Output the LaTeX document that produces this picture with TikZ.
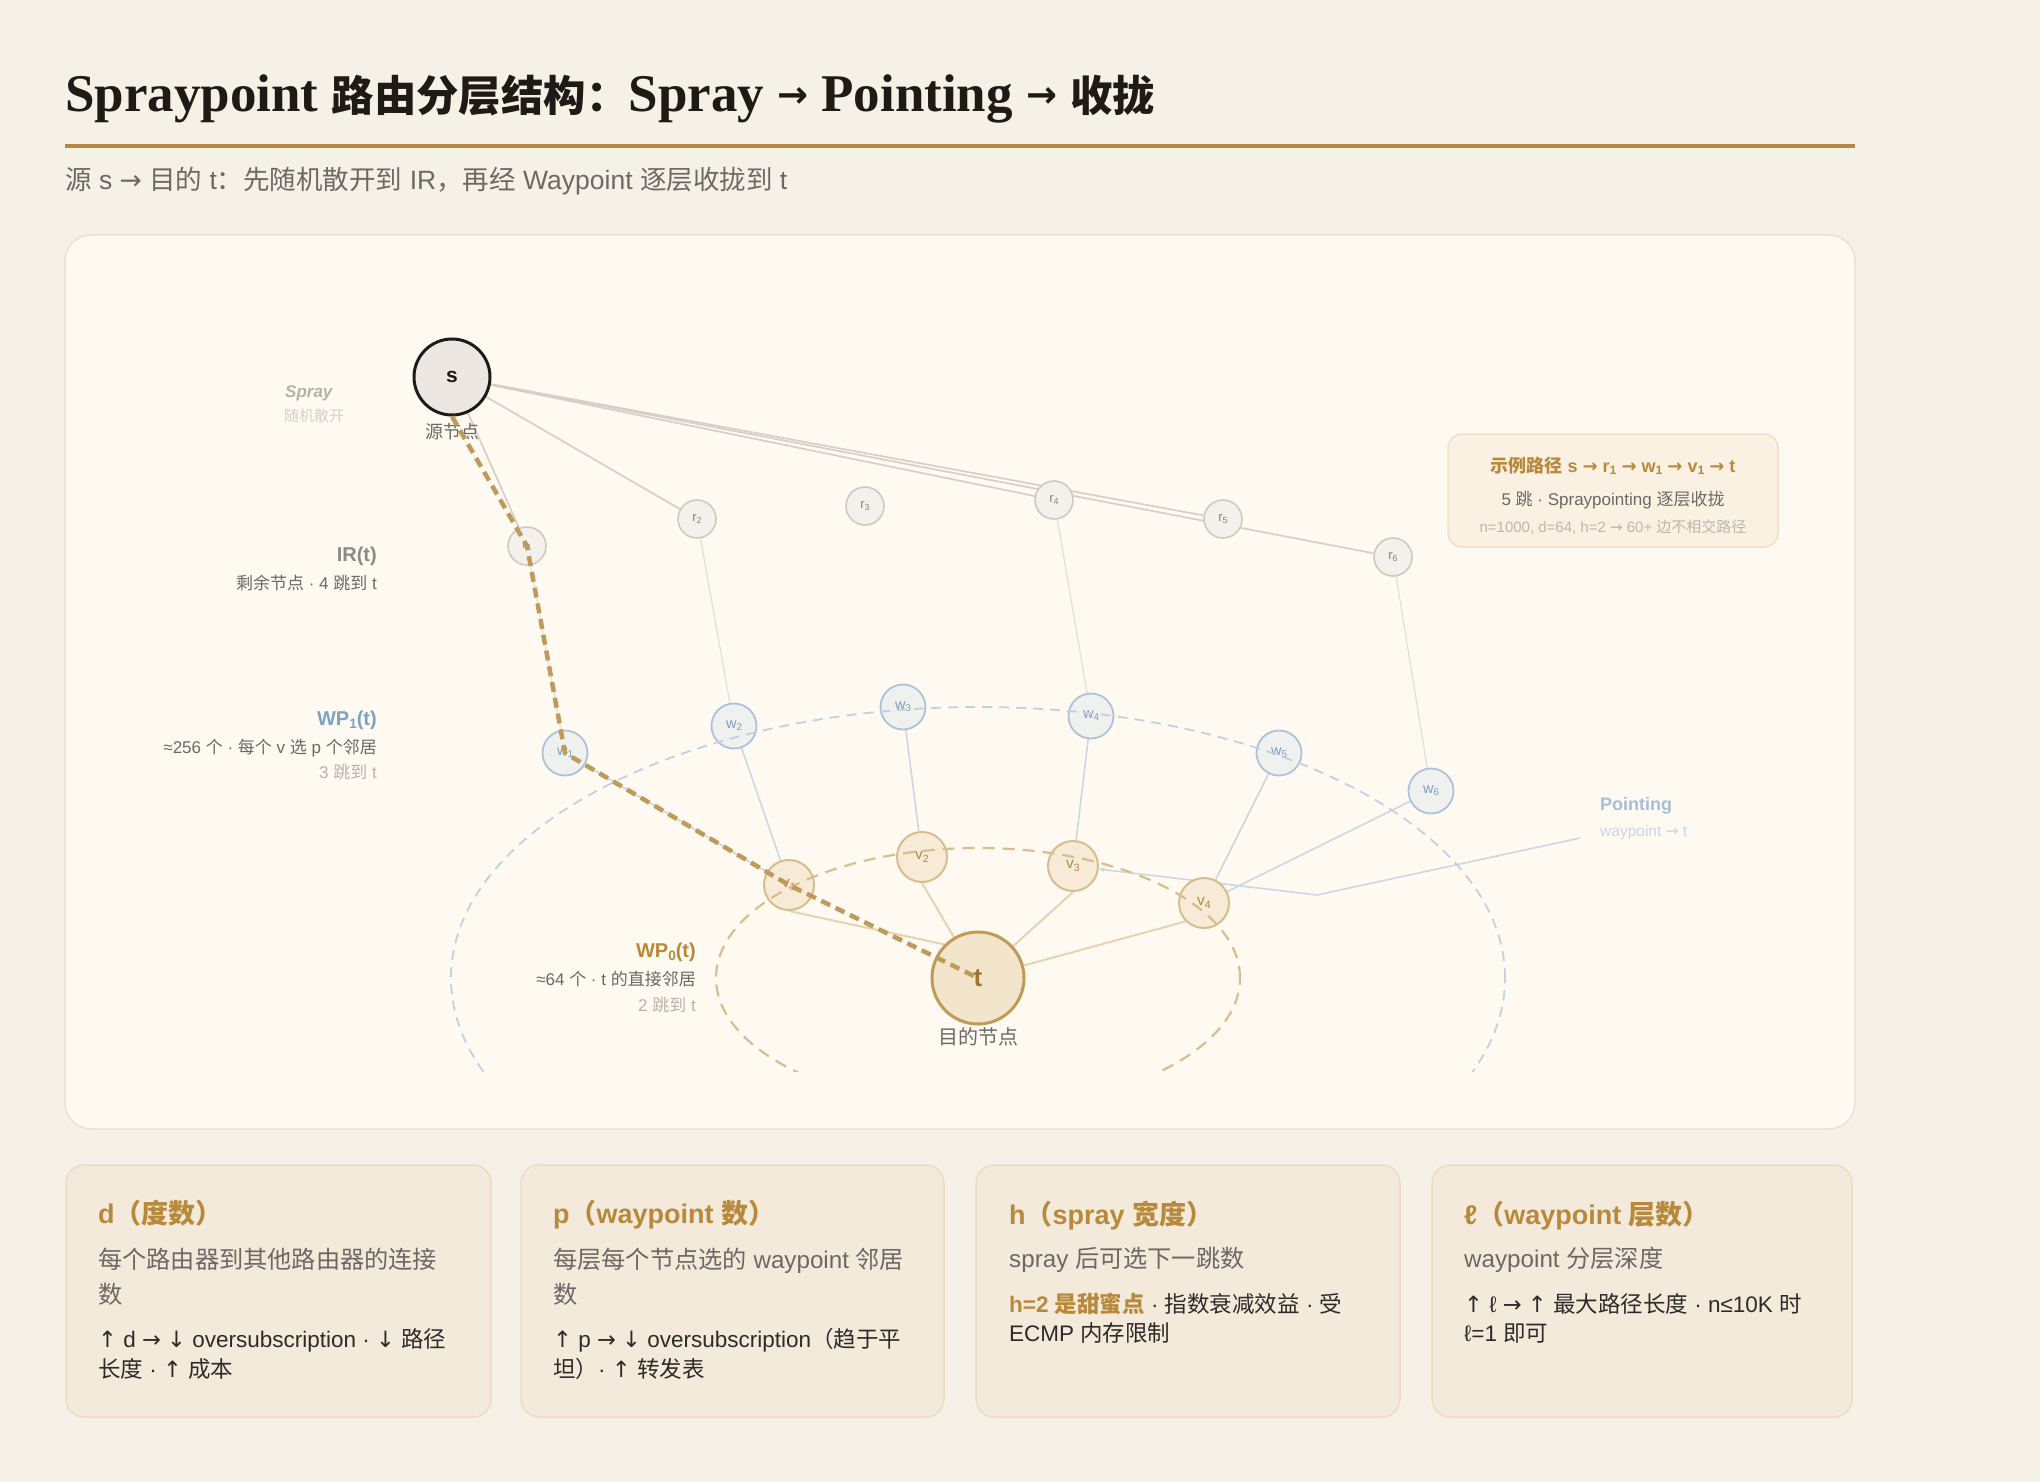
\documentclass[tikz,border=0pt]{standalone}
\usepackage{fontspec}
\setmainfont{Liberation Sans}
\newfontfamily\cjkfam{Noto Sans CJK SC}
\newfontfamily\cjkt{Noto Sans CJK SC}[Scale=0.8]
\newfontfamily\serifl{Liberation Serif}
\newfontfamily\dvs{DejaVu Sans}
\XeTeXinterchartokenstate=1
\newXeTeXintercharclass\CJKcls
\newXeTeXintercharclass\ARcls
\newcount\mycnt
\mycnt="4E00 \loop\ifnum\mycnt<"A000 \XeTeXcharclass\mycnt=\CJKcls \advance\mycnt by 1 \repeat
\mycnt="3000 \loop\ifnum\mycnt<"3040 \XeTeXcharclass\mycnt=\CJKcls \advance\mycnt by 1 \repeat
\mycnt="FF00 \loop\ifnum\mycnt<"FFF0 \XeTeXcharclass\mycnt=\CJKcls \advance\mycnt by 1 \repeat
\mycnt="2190 \loop\ifnum\mycnt<"2200 \XeTeXcharclass\mycnt=\ARcls \advance\mycnt by 1 \repeat
\def\curlat{\rmfamily}
\def\cjksw{\cjkfam}
\XeTeXinterchartoks 0 \CJKcls = {\cjksw}
\XeTeXinterchartoks 4095 \CJKcls = {\cjksw}
\XeTeXinterchartoks \CJKcls 0 = {\curlat}
\XeTeXinterchartoks \CJKcls 4095 = {\curlat}
\XeTeXinterchartoks 0 \ARcls = {\dvs}
\XeTeXinterchartoks 4095 \ARcls = {\dvs}
\XeTeXinterchartoks \ARcls 0 = {\curlat}
\XeTeXinterchartoks \ARcls 4095 = {\curlat}
\XeTeXinterchartoks \CJKcls \ARcls = {\dvs}
\XeTeXinterchartoks \ARcls \CJKcls = {\cjksw}
\usetikzlibrary{arrows.meta}
\pgfdeclarelayer{back}
\pgfdeclarelayer{edges}
\pgfdeclarelayer{front}
\pgfsetlayers{back,edges,main,front}
\definecolor{bgc}{HTML}{F6F1E7}
\definecolor{panelc}{HTML}{FEFAF2}
\definecolor{panelbd}{HTML}{E9E1D3}
\definecolor{cardc}{HTML}{F3EADB}
\definecolor{cardbd}{HTML}{EBDDC5}
\definecolor{goldc}{HTML}{B48A42}
\definecolor{goldt}{HTML}{B8893A}
\definecolor{titlec}{HTML}{1E1A16}
\definecolor{subc}{HTML}{6E6862}
\definecolor{darkc}{HTML}{2F2A25}
\definecolor{lightc}{HTML}{B8B2AA}
\definecolor{sfill}{HTML}{ECE8E1}
\definecolor{rfill}{HTML}{F4F1EC}
\definecolor{rbd}{HTML}{CFC9C0}
\definecolor{rtxt}{HTML}{8A8378}
\definecolor{wfill}{HTML}{EFF1EF}
\definecolor{wbd}{HTML}{ADC2D8}
\definecolor{wtxt}{HTML}{7C9DC0}
\definecolor{vfill}{HTML}{F7EBD8}
\definecolor{vbd}{HTML}{D7BD8D}
\definecolor{vtxt}{HTML}{B08A45}
\definecolor{tfill}{HTML}{F3E5CC}
\definecolor{tbd}{HTML}{C29A55}
\definecolor{ttxt}{HTML}{9C7530}
\definecolor{pathc}{HTML}{BF9A58}
\definecolor{srline}{HTML}{D6CFC5}
\definecolor{rwline}{HTML}{E3DED7}
\definecolor{wvline}{HTML}{CCD7E1}
\definecolor{vtline}{HTML}{E6D3AE}
\definecolor{blueell}{HTML}{C4D0DB}
\definecolor{goldell}{HTML}{D8BE8E}
\definecolor{irc}{HTML}{8E8982}
\definecolor{wpblue}{HTML}{7EA2C6}
\definecolor{pointc}{HTML}{A5BED6}
\definecolor{pointl}{HTML}{C9D6E2}
\definecolor{sprayc}{HTML}{B5B0A8}
\definecolor{sprayl}{HTML}{D6D0C6}
\definecolor{exfill}{HTML}{FAF1E3}
\definecolor{exbd}{HTML}{EEE1C9}
\definecolor{exl}{HTML}{BDB6AC}
\newcommand{\fsz}[2]{\fontsize{#1}{#2}\selectfont}
\newcommand{\lsub}[1]{\raisebox{-0.3ex}{\scalebox{0.68}{#1}}}
\newcommand{\tarr}{{\dvs\fontsize{37}{40}\selectfont\raisebox{4pt}{→}}}
\begin{document}
\begin{tikzpicture}[x=1pt,y=-1pt,
  rnode/.style={circle, draw=rbd, fill=rfill, line width=1.6pt, minimum size=38pt, inner sep=0pt, text=rtxt, font=\fsz{13}{15}},
  wnode/.style={circle, draw=wbd, fill=wfill, line width=1.8pt, minimum size=45pt, inner sep=0pt, text=wtxt, font=\fsz{14.5}{16}},
  vnode/.style={circle, draw=vbd, fill=vfill, line width=2pt, minimum size=50pt, inner sep=0pt, text=vtxt, font=\fsz{15.5}{17}},
  lbl/.style={inner sep=0pt},
  cardbox/.style={fill=cardc, draw=cardbd, line width=1.5pt, rounded corners=18pt},
  cardtitle/.style={anchor=base west, inner sep=0pt, text=goldt, font=\fsz{27}{30}\bfseries},
  cardbody/.style={anchor=base west, inner sep=0pt, text=subc, font=\fsz{24.2}{28}},
  cardfoot/.style={anchor=base west, inner sep=0pt, text=darkc, font=\fsz{22.5}{25}},
  srl/.style={draw=srline, line width=1.7pt},
  rwl/.style={draw=rwline, line width=1.2pt},
  wvl/.style={draw=wvline, line width=1.6pt},
  vtl/.style={draw=vtline, line width=2pt},
]
\useasboundingbox (0,0) rectangle (2040,1482);
\begin{pgfonlayer}{back}
\fill[bgc] (0,0) rectangle (2040,1482);
\draw[fill=panelc, draw=panelbd, line width=1.5pt, rounded corners=26pt] (65,235) rectangle (1855,1129);
\draw[cardbox] (66,1165) rectangle (491,1417);
\draw[cardbox] (521,1165) rectangle (944,1417);
\draw[cardbox] (976,1165) rectangle (1400,1417);
\draw[cardbox] (1432,1165) rectangle (1852,1417);
\draw[fill=exfill, draw=exbd, line width=1.5pt, rounded corners=14pt] (1448,434) rectangle (1778,547);
\end{pgfonlayer}

% title
\node[anchor=base west, inner sep=0pt, text=titlec, font=\fsz{53}{56}] (title) at (65,112)
  {\def\curlat{\serifl}\def\cjksw{\cjkt}\serifl\bfseries Spraypoint 路由分层结构：Spray \tarr{} Pointing \tarr{} 收拢};
\draw[goldc, line width=3.5pt] (65,146) -- (1855,146);
\node[anchor=base west, inner sep=0pt, text=subc, font=\fsz{26.5}{29}] (subt) at (65,190)
  {源 s → 目的 t：先随机散开到 IR，再经 Waypoint 逐层收拢到 t};

% nodes
\node[circle, draw=titlec, fill=sfill, line width=3pt, minimum size=76pt, inner sep=0pt, font=\fsz{21}{23}\bfseries, text=titlec] (s) at (452,377) {s};
\node[rnode] (r1) at (527,546) {r\lsub{1}};
\node[rnode] (r2) at (697,519) {r\lsub{2}};
\node[rnode] (r3) at (865,506) {r\lsub{3}};
\node[rnode] (r4) at (1054,500) {r\lsub{4}};
\node[rnode] (r5) at (1223,519) {r\lsub{5}};
\node[rnode] (r6) at (1393,557) {r\lsub{6}};
\node[wnode] (w1) at (565,753) {w\lsub{1}};
\node[wnode] (w2) at (734,726) {w\lsub{2}};
\node[wnode] (w3) at (903,707) {w\lsub{3}};
\node[wnode] (w4) at (1091,716) {w\lsub{4}};
\node[wnode] (w5) at (1279,753) {w\lsub{5}};
\node[wnode] (w6) at (1431,791) {w\lsub{6}};
\node[vnode] (v1) at (789,885) {v\lsub{1}};
\node[vnode] (v2) at (922,857) {v\lsub{2}};
\node[vnode] (v3) at (1073,866) {v\lsub{3}};
\node[vnode] (v4) at (1204,903) {v\lsub{4}};
\node[circle, draw=tbd, fill=tfill, line width=3pt, minimum size=92pt, inner sep=0pt, font=\fsz{26}{28}\bfseries, text=ttxt] (t) at (978,978) {t};
\coordinate (pt0) at (1580,838);
\coordinate (pt1) at (1317,895);

% edges
\begin{pgfonlayer}{edges}
\draw[srl] (s) -- (r1);
\draw[srl] (s) -- (r2);
\draw[srl] (s) -- (r4);
\draw[srl] (s) -- (r5);
\draw[srl] (s) -- (r6);
\draw[rwl] (r1) -- (w1);
\draw[rwl] (r2) -- (w2);
\draw[rwl] (r4) -- (w4);
\draw[rwl] (r6) -- (w6);
\draw[wvl] (w1) -- (v1);
\draw[wvl] (w2) -- (v1);
\draw[wvl] (w3) -- (v2);
\draw[wvl] (w4) -- (v3);
\draw[wvl] (w5) -- (v4);
\draw[wvl] (w6) -- (v4);
\draw[vtl] (v1.south) -- (t.north west);
\draw[vtl] (v2.south) -- (t);
\draw[vtl] (v3.south) -- (t);
\draw[vtl] (v4.south west) -- (t);
\draw[wvl, -{Stealth[length=6pt,width=5pt]}] (pt0) -- (pt1) -- (v3);
\end{pgfonlayer}

\begin{pgfonlayer}{front}
\begin{scope}
\clip (65,235) rectangle (1855,1071);
\draw[blueell, line width=1.8pt, dash pattern=on 10pt off 7pt] (978,978) ellipse [x radius=527pt, y radius=271pt];
\draw[goldell, line width=2.2pt, dash pattern=on 12pt off 8pt] (978,978) ellipse [x radius=262pt, y radius=130pt];
\end{scope}
\draw[pathc, line width=4.5pt, dash pattern=on 10pt off 6pt] (s.south) -- (r1.center) -- (w1.center) -- (v1.center) -- (t.center);
\end{pgfonlayer}

% labels
\node[lbl, anchor=base, text=subc, font=\fsz{18}{20}] (slab) at (452,438) {源节点};
\node[lbl, anchor=base, text=subc, font=\fsz{20}{22}] (tlab) at (978,1044) {目的节点};
\node[lbl, anchor=base west, text=sprayc, font=\fsz{17}{19}\bfseries\itshape] (spr1) at (285,397) {Spray};
\node[lbl, anchor=base west, text=sprayl, font=\fsz{15}{17}] (spr2) at (284,421) {随机散开};
\node[lbl, anchor=base east, text=irc, font=\fsz{20}{22}\bfseries] (ir1) at (377,561) {IR(t)};
\node[lbl, anchor=base east, text=subc, font=\fsz{17}{19}] (ir2) at (377,589) {剩余节点 · 4 跳到 t};
\node[lbl, anchor=base east, text=wpblue, font=\fsz{20}{22}\bfseries] (wp1a) at (377,725) {WP\lsub{1}(t)};
\node[lbl, anchor=base east, text=subc, font=\fsz{17}{19}] (wp1b) at (377,753) {≈256 个 · 每个 v 选 p 个邻居};
\node[lbl, anchor=base east, text=lightc, font=\fsz{17}{19}] (wp1c) at (377,778) {3 跳到 t};
\node[lbl, anchor=base east, text=goldt, font=\fsz{20}{22}\bfseries] (wp0a) at (696,957) {WP\lsub{0}(t)};
\node[lbl, anchor=base east, text=subc, font=\fsz{17}{19}] (wp0b) at (696,985) {≈64 个 · t 的直接邻居};
\node[lbl, anchor=base east, text=lightc, font=\fsz{17}{19}] (wp0c) at (696,1011) {2 跳到 t};
\node[lbl, anchor=base west, text=pointc, font=\fsz{18}{20}\bfseries] (pt1l) at (1600,810) {Pointing};
\node[lbl, anchor=base west, text=pointl, font=\fsz{15.5}{17}] (pt2l) at (1600,836) {waypoint → t};

% example box
\node[lbl, anchor=base, text=goldt, font=\fsz{18}{20}\bfseries] (ex1) at (1613,472) {示例路径 s → r\lsub{1} → w\lsub{1} → v\lsub{1} → t};
\node[lbl, anchor=base, text=subc, font=\fsz{17}{19}] (ex2) at (1613,505) {5 跳 · Spraypointing 逐层收拢};
\node[lbl, anchor=base, text=exl, font=\fsz{15}{17}] (ex3) at (1613,532) {n=1000, d=64, h=2 → 60+ 边不相交路径};

% cards
\node[cardtitle] (c1t) at (98,1223) {d（度数）};
\node[cardbody] (c1b1) at (98,1268) {每个路由器到其他路由器的连接};
\node[cardbody] (c1b2) at (98,1303) {数};
\node[cardfoot] (c1f1) at (98,1347) {↑ d → ↓ oversubscription · ↓ 路径};
\node[cardfoot] (c1f2) at (98,1377) {长度 · ↑ 成本};

\node[cardtitle] (c2t) at (553,1223) {p（waypoint 数）};
\node[cardbody] (c2b1) at (553,1268) {每层每个节点选的 waypoint 邻居};
\node[cardbody] (c2b2) at (553,1303) {数};
\node[cardfoot] (c2f1) at (553,1347) {↑ p → ↓ oversubscription（趋于平};
\node[cardfoot] (c2f2) at (553,1377) {坦）· ↑ 转发表};

\node[cardtitle] (c3t) at (1009,1224) {h（spray 宽度）};
\node[cardbody] (c3b1) at (1009,1267) {spray 后可选下一跳数};
\node[cardfoot] (c3f1) at (1009,1312) {{\color{goldt}\bfseries h=2 是甜蜜点} · 指数衰减效益 · 受};
\node[cardfoot] (c3f2) at (1009,1341) {ECMP 内存限制};

\node[cardtitle] (c4t) at (1464,1224) {ℓ（waypoint 层数）};
\node[cardbody] (c4b1) at (1464,1267) {waypoint 分层深度};
\node[cardfoot] (c4f1) at (1464,1312) {↑ ℓ → ↑ 最大路径长度 · n≤10K 时};
\node[cardfoot] (c4f2) at (1464,1341) {ℓ=1 即可};
\end{tikzpicture}
\end{document}
